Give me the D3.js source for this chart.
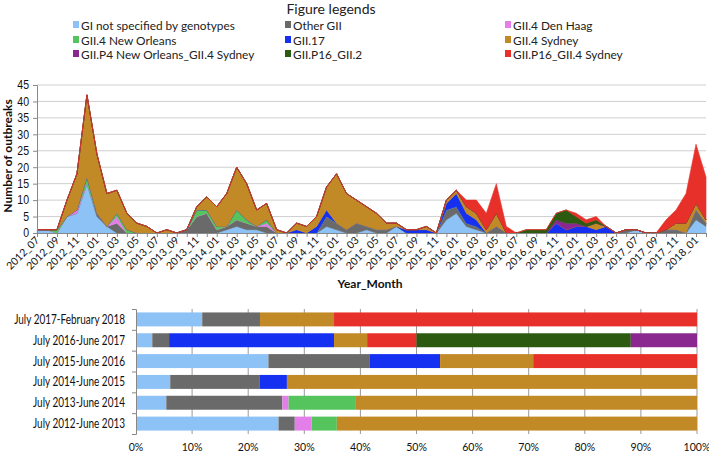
<!DOCTYPE html>
<html><head><meta charset="utf-8">
<script src="https://cdn.jsdelivr.net/npm/d3@7"></script>
<style>
body{margin:0;background:#fff;}
svg{display:block;font-family:Lato,"Open Sans",sans-serif;}
</style></head>
<body><svg id="c" width="709" height="453"></svg>
<script>
const months = ["2012_07","2012_08","2012_09","2012_10","2012_11","2012_12",
"2013_01","2013_02","2013_03","2013_04","2013_05","2013_06","2013_07","2013_08","2013_09","2013_10","2013_11","2013_12",
"2014_01","2014_02","2014_03","2014_04","2014_05","2014_06","2014_07","2014_08","2014_09","2014_10","2014_11","2014_12",
"2015_01","2015_02","2015_03","2015_04","2015_05","2015_06","2015_07","2015_08","2015_09","2015_10","2015_11","2015_12",
"2016_01","2016_02","2016_03","2016_04","2016_05","2016_06","2016_07","2016_08","2016_09","2016_10","2016_11","2016_12",
"2017_01","2017_02","2017_03","2017_04","2017_05","2017_06","2017_07","2017_08","2017_09","2017_10","2017_11","2017_12",
"2018_01","2018_02"];

// monthly outbreak counts per genotype
const giNotSpecified = [1,1,0,5,6,15, 5,2,0,0,0,0,0,0,0,0,0,0, 0,1,2,1,1,0,0,0,0,0,0,2, 1,0,0,1,0,0,2,0,0,0,0,4, 6,2,1,0,0,0,0,0,0,0,0,0, 0,0,0,0,0,0,1,0,0,0,0,0, 4,2];
const otherGII      = [0,0,0,0,0,0, 1,0,3,0,0,0,0,0,0,1,5,6, 1,1,2,2,1,2,0,0,0,0,0,3, 2,1,3,1,1,1,0,0,0,0,0,3, 2,1,1,0,2,0,0,0,0,0,0,0, 0,0,0,0,0,1,0,0,0,1,1,0, 3,1];
const gii4DenHaag   = [0,0,0,0,1,0, 0,0,2,0,0,0,0,0,0,0,0,0, 0,0,0,0,0,1,0,0,0,0,0,0, 0,0,0,0,0,0,0,0,0,0,0,0, 0,0,0,0,0,0,0,0,0,0,0,0, 0,0,0,0,0,0,0,0,0,0,0,0, 0,0];
const gii4NewOrleans= [0,0,1,0,0,2, 0,0,1,1,0,0,0,0,0,0,2,1, 1,0,3,1,0,1,0,0,0,0,0,0, 0,0,0,0,0,0,0,0,0,0,0,0, 0,0,0,0,0,0,0,0,0,0,0,0, 0,0,0,0,0,0,0,0,0,0,0,0, 0,0];
const gii17         = [0,0,0,0,0,0, 0,0,0,0,0,0,0,0,0,0,0,0, 0,0,0,0,0,0,0,0,1,0,2,2, 0,0,0,0,0,0,0,1,1,1,0,2, 4,3,2,0,0,0,0,0,0,0,3,1, 2,2,1,2,0,0,0,0,0,0,0,0, 0,0];
const gii4Sydney    = [0,0,0,5,11,25, 18,10,7,5,3,2,0,1,0,0,1,4, 6,10,13,11,5,5,1,0,2,2,3,7, 15,11,7,6,5,2,1,0,0,1,0,1, 1,2,2,1,4,0,0,0,0,0,0,0, 0,0,2,0,0,0,0,0,0,0,2,3, 2,1];
const giiP4NOSydney = [0,0,0,0,0,0, 0,0,0,0,0,0,0,0,0,0,0,0, 0,0,0,0,0,0,0,0,0,0,0,0, 0,0,0,0,0,0,0,0,0,0,0,0, 0,0,0,0,0,0,0,0,0,0,1,2, 1,0,0,0,0,0,0,0,0,0,0,0, 0,0];
const giiP16GII2    = [0,0,0,0,0,0, 0,0,0,0,0,0,0,0,0,0,0,0, 0,0,0,0,0,0,0,0,0,0,0,0, 0,0,0,0,0,0,0,0,0,0,0,0, 0,0,0,0,0,0,0,1,1,1,2,4, 2,1,1,0,0,0,0,0,0,0,0,0, 0,0];
const giiP16Sydney  = [0,0,0,0,0,0, 0,0,0,0,0,0,0,0,0,0,0,0, 0,0,0,0,0,0,0,0,0,0,0,0, 0,0,0,0,0,0,0,0,0,0,0,0, 0,2,4,5,9,2,0,0,0,0,0,0, 1,1,1,0,0,0,0,0,0,3,4,9, 18,13];

const seriesNames = ["GI not specified by genotypes","Other GII","GII.4 Den Haag","GII.4 New Orleans","GII.17","GII.4 Sydney","GII.P4 New Orleans_GII.4 Sydney","GII.P16_GII.2","GII.P16_GII.4 Sydney"];
const seriesColors = ["#8cc2f6","#6a6a6a","#e47fe9","#55c45c","#1530f0","#c28a26","#8a2890","#2c5a10","#e8302a"];
const yTicks = [0,5,10,15,20,25,30,35,40,45];

// bar chart: percentage composition per season
const periods = ["July 2017-February 2018","July 2016-June 2017","July 2015-June 2016","July 2014-June 2015","July 2013-June 2014","July 2012-June 2013"];
const barOrder = ["GI not specified by genotypes","Other GII","GII.4 Den Haag","GII.4 New Orleans","GII.17","GII.4 Sydney","GII.P16_GII.4 Sydney","GII.P16_GII.2","GII.P4 New Orleans_GII.4 Sydney"];
const pctGI     = [11.8, 2.9, 23.6, 6.1, 5.4, 25.4];
const pctOther  = [10.3, 3.0, 18.0, 15.9, 20.7, 2.9];
const pctDenHaag= [0, 0, 0, 0, 1.1, 3.0];
const pctNO     = [0, 0, 0, 0, 12.0, 4.5];
const pct17     = [0, 29.4, 12.6, 4.9, 0, 0];
const pctSydney = [13.2, 5.9, 16.6, 73.1, 60.8, 64.2];
const pctP16Syd = [64.7, 8.8, 29.2, 0, 0, 0];
const pctP16G2  = [0, 38.2, 0, 0, 0, 0];
const pctP4     = [0, 11.8, 0, 0, 0, 0];
const pctTicks = [0,10,20,30,40,50,60,70,80,90,100];

const svg = d3.select("#c");
const color = d3.scaleOrdinal(seriesNames, seriesColors);

// squeeze/stretch a text selection horizontally so its widest member spans `target` px
function fitWidth(sel, target, ox, oyFn){
  let w = 0; sel.each(function(){ w = Math.max(w, this.getComputedTextLength()); });
  const k = w > 0 ? target / w : 1;
  sel.attr("transform", (d,i)=>`translate(${ox},${oyFn(d,i)}) scale(${k},1)`).attr("x",0).attr("y",0);
}

// ---------- Legend ----------
svg.append("text").attr("x",331).attr("y",14).attr("text-anchor","middle")
  .attr("font-size",14).attr("fill","#222").text("Figure legends");
const legX = [73, 285, 505], legY = [25, 40, 54];
const legG = svg.append("g").selectAll("g").data(seriesNames).join("g")
  .attr("transform",(n,k)=>`translate(${legX[k%3]},${legY[Math.floor(k/3)]})`);
legG.append("rect").attr("x",0).attr("y",-4).attr("width",6).attr("height",7).attr("fill",n=>color(n));
const legT = legG.append("text").attr("font-size",12).attr("fill","#222").text(n=>n);
fitWidth(legT.filter((n,k)=>k===0), 154, 8, ()=>4.5);
const legK = +legT.filter((n,k)=>k===0).attr("transform").match(/scale\(([^,]+)/)[1];
legT.attr("transform",`translate(8,4.5) scale(${legK},1)`);

// ---------- Area chart ----------
const x = d3.scalePoint(months, [37, 706]);
const y = d3.scaleLinear([0,45],[233,85]);
const seriesArrays = [giNotSpecified,otherGII,gii4DenHaag,gii4NewOrleans,gii17,gii4Sydney,giiP4NOSydney,giiP16GII2,giiP16Sydney];
const table = months.map((m,i)=>{const o={month:m}; seriesNames.forEach((n,k)=>o[n]=seriesArrays[k][i]); return o;});
const stacked = d3.stack().keys(seriesNames)(table);

svg.append("g").selectAll("line").data(yTicks.slice(1)).join("line")
  .attr("x1",37).attr("x2",706).attr("y1",d=>y(d)).attr("y2",d=>y(d))
  .attr("stroke","#cfcfcf").attr("stroke-width",1);

const area = d3.area().x(d=>x(d.data.month)).y0(d=>y(d[0])).y1(d=>y(d[1]));
svg.append("g").selectAll("path").data(stacked).join("path")
  .attr("d",area).attr("fill",d=>color(d.key)).attr("stroke",d=>color(d.key)).attr("stroke-width",0.6);

const yAxis = svg.append("g").attr("transform","translate(37,0)")
  .call(d3.axisLeft(y).tickValues(yTicks).tickSize(4).tickPadding(5));
yAxis.select(".domain").attr("stroke","#888");
yAxis.selectAll(".tick line").attr("stroke","#888");
yAxis.selectAll("text").attr("font-size",12).attr("fill","#111").attr("font-family",null)
  .attr("transform","scale(0.88,1)");

const xAxis = svg.append("g").attr("transform","translate(0,233)")
  .call(d3.axisBottom(x).tickSize(4).tickFormat(""));
xAxis.select(".domain").attr("stroke","#888");
xAxis.selectAll(".tick line").attr("stroke","#888");
svg.append("g").selectAll("text").data(months.filter((m,i)=>i%2===0)).join("text")
  .attr("transform",d=>`translate(${x(d)+3},${241}) rotate(-45)`)
  .attr("text-anchor","end").attr("font-size",10.5).attr("fill","#111").text(d=>d);

svg.append("text").attr("transform","translate(12,156) rotate(-90)").attr("text-anchor","middle")
  .attr("font-size",12).attr("font-weight","bold").attr("fill","#111").text("Number of outbreaks");
svg.append("text").attr("x",370).attr("y",288).attr("text-anchor","middle")
  .attr("font-size",12).attr("font-weight","bold").attr("fill","#111").text("Year_Month");

// ---------- 100% stacked bar chart ----------
const bx = d3.scaleLinear([0,100],[136,697]);
const by = d3.scaleBand(periods,[309,434]).paddingInner(0.33).paddingOuter(0.165);
const pctArrays = {
  "GI not specified by genotypes":pctGI,"Other GII":pctOther,"GII.4 Den Haag":pctDenHaag,"GII.4 New Orleans":pctNO,
  "GII.17":pct17,"GII.4 Sydney":pctSydney,"GII.P16_GII.4 Sydney":pctP16Syd,"GII.P16_GII.2":pctP16G2,"GII.P4 New Orleans_GII.4 Sydney":pctP4};
const btable = periods.map((p,i)=>{const o={period:p}; barOrder.forEach(n=>o[n]=pctArrays[n][i]); return o;});
const bstack = d3.stack().keys(barOrder)(btable);

svg.append("g").selectAll("line").data(pctTicks.slice(1)).join("line")
  .attr("x1",d=>bx(d)).attr("x2",d=>bx(d)).attr("y1",309).attr("y2",434)
  .attr("stroke","#9a9a9a").attr("stroke-width",1);

svg.append("g").selectAll("g").data(bstack).join("g").attr("fill",d=>color(d.key))
  .selectAll("rect").data(d=>d).join("rect")
  .attr("x",d=>bx(d[0])).attr("width",d=>Math.max(0,bx(d[1])-bx(d[0])))
  .attr("y",d=>by(d.data.period)).attr("height",by.bandwidth());

const byAxis = svg.append("g").attr("transform","translate(136,0)")
  .call(d3.axisLeft(d3.scaleLinear([0,6],[309,434])).ticks(6).tickSize(4).tickFormat(""));
byAxis.select(".domain").attr("stroke","#888");
byAxis.selectAll(".tick line").attr("stroke","#888");
const perT = svg.append("g").selectAll("text").data(periods).join("text")
  .attr("text-anchor","end").attr("font-size",12.5).attr("fill","#111").text(d=>d);
fitWidth(perT, 111, 125, d=>by(d)+by.bandwidth()/2+4.5);

svg.append("g").selectAll("text").data(pctTicks).join("text")
  .attr("transform",d=>`translate(${bx(d)},451) scale(0.92,1)`).attr("text-anchor","middle")
  .attr("font-size",11.5).attr("fill","#111").text(d=>d+"%");
</script></body></html>
